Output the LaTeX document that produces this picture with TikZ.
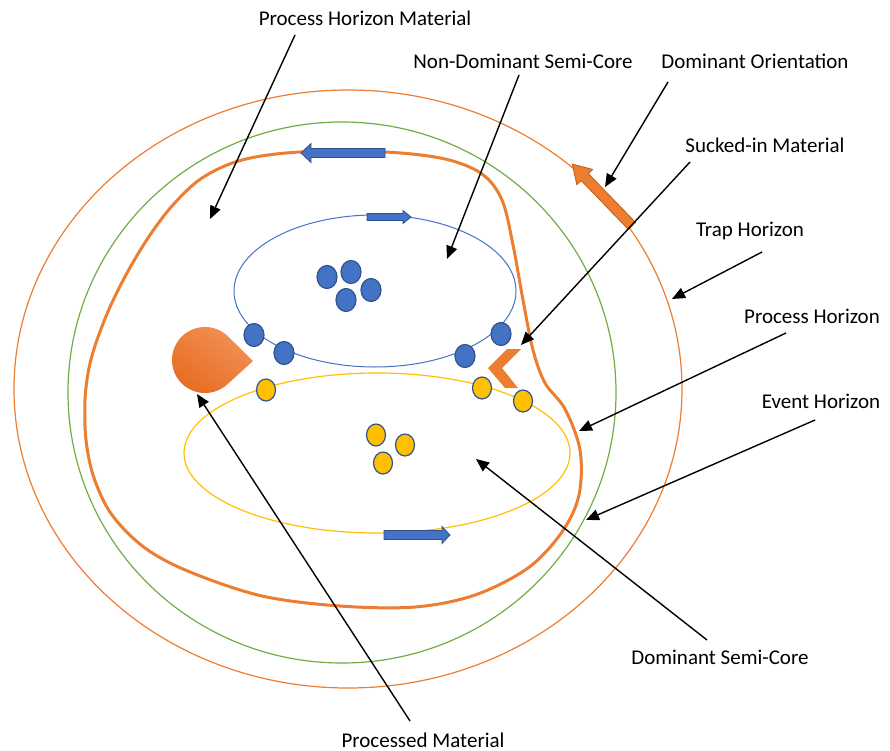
\documentclass[tikz,border=0pt]{standalone}
\usepackage{fontspec}
\setmainfont{Carlito}
\usetikzlibrary{arrows.meta,calc}
\definecolor{outerorange}{HTML}{ED7D31}
\definecolor{darkorange}{HTML}{C55A11}
\definecolor{tdlight}{HTML}{F2915A}
\definecolor{tddark}{HTML}{E66C1E}
\definecolor{greenline}{HTML}{70AD47}
\definecolor{blueline}{HTML}{4472C4}
\definecolor{blueedge}{HTML}{2F528F}
\definecolor{yellowline}{HTML}{FFC000}
\tikzset{
  lbl/.style={font=\fontsize{21}{25}\selectfont, inner sep=1pt},
  callout/.style={draw=black, line width=1.4pt, -{Triangle[length=13pt,width=11pt]}},
  bluedot/.style={draw=blueedge, line width=1.2pt, fill=blueline},
  yellowdot/.style={draw=blueedge, line width=1.2pt, fill=yellowline},
  bluearrow/.style={draw=blueedge, line width=0.8pt, fill=blueline},
}
\begin{document}
\begin{tikzpicture}[x=1pt,y=-1pt]
\useasboundingbox (0,0) rectangle (890,751);
% horizons
\draw[outerorange, line width=1.2pt] (348,389) ellipse [x radius=334, y radius=299];
\draw[greenline, line width=1.2pt] (342,392.5) ellipse [x radius=274, y radius=270.5];
\draw[outerorange, line width=3pt] plot[smooth cycle, tension=0.55] coordinates {
 (300,152) (385,152) (445,159) (482,174) (502,200) (513,245) (523,300) (533,350)
 (545,383) (565,409) (580,450) (579,495) (562,532) (528,568) (475,595) (415,607)
 (340,606) (262,596) (190,572) (145,548) (112,515) (94,478) (86,440) (85,400)
 (89,368) (97,340) (110,307) (127,273) (148,238) (172,206) (202,178) (242,160)};
% semi-cores
\draw[blueline, line width=1pt] (375,291) ellipse [x radius=141, y radius=76];
\draw[yellowline, line width=1.2pt] (377,453) ellipse [x radius=193, y radius=80];
% dots
\foreach \p in {(327,277),(351,272),(346,300),(371,290),(254,335),(284,353),(465,356),(501,334)}
  \draw[bluedot] \p ellipse [x radius=10, y radius=11.5];
\foreach \p in {(266,390),(482,388),(523,401),(376,435),(405,445),(383,463)}
  \draw[yellowdot] \p ellipse [x radius=9.5, y radius=11];
% teardrop
\coordinate (tdc) at (205,360);
\shade[top color=tdlight, bottom color=tddark, shading angle=-35]
  (253,361) -- ($(tdc)+(46.6:33)$) arc[start angle=46.6, end angle=313.4, radius=33] -- cycle;
% chevron
\fill[outerorange] (488,368) -- (507,349) -- (521,349) -- (502,368) -- (518,388) -- (505,388) -- cycle;
% blue flow arrows
\draw[bluearrow] (385,148.5) -- (311,148.5) -- (311,143.5) -- (301,153) -- (311,162.5) -- (311,157.5) -- (385,157.5) -- cycle;
\draw[bluearrow] (367,213.5) -- (403,213.5) -- (403,210.5) -- (411,217) -- (403,223.5) -- (403,220.5) -- (367,220.5) -- cycle;
\draw[bluearrow] (384,530.5) -- (442,530.5) -- (442,526.5) -- (450,535) -- (442,543.5) -- (442,539.5) -- (384,539.5) -- cycle;
% orange orientation arrow
\begin{scope}[shift={(632,226)}, rotate=134]
\draw[fill=outerorange, draw=darkorange, line width=0.8pt]
  (0,-5) -- (68,-5) -- (68,-11) -- (86,0) -- (68,11) -- (68,5) -- (0,5) -- cycle;
\end{scope}
% labels
\node[lbl] (phm) at (365,18) {Process Horizon Material};
\node[lbl] (nds) at (523,61) {Non-Dominant Semi-Core};
\node[lbl] (dor) at (755,61) {Dominant Orientation};
\node[lbl] (sim) at (765,145) {Sucked-in Material};
\node[lbl] (trh) at (750,231) {Trap Horizon};
\node[lbl] (prh) at (812,316) {Process Horizon};
\node[lbl] (evh) at (821,401) {Event Horizon};
\node[lbl] (dsc) at (720,657) {Dominant Semi-Core};
\node[lbl] (prm) at (423,740) {Processed Material};
% callout endpoints
\coordinate (phmA) at (295,35);  \coordinate (phmB) at (210,219);
\coordinate (ndsA) at (519,75);  \coordinate (ndsB) at (447,259);
\coordinate (dorA) at (668,82);  \coordinate (dorB) at (605,187);
\coordinate (simA) at (690,162); \coordinate (simB) at (521,345);
\coordinate (trhA) at (762,252); \coordinate (trhB) at (672,299);
\coordinate (prhA) at (786,333); \coordinate (prhB) at (579,431);
\coordinate (evhA) at (815,420); \coordinate (evhB) at (586,520);
\coordinate (dscA) at (707,640); \coordinate (dscB) at (476,459);
\coordinate (prmA) at (410,721); \coordinate (prmB) at (197,394);
\foreach \n in {phm,nds,dor,sim,trh,prh,evh,dsc,prm}
  \draw[callout] (\n A) -- (\n B);
\end{tikzpicture}
\end{document}
